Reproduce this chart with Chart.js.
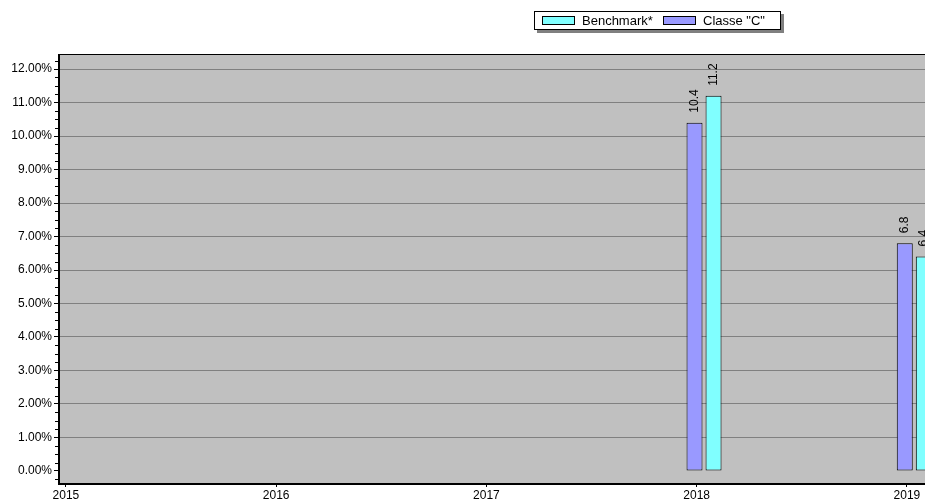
<!DOCTYPE html>
<html>
<head>
<meta charset="utf-8">
<script src="https://cdn.jsdelivr.net/npm/chart.js@4/dist/chart.umd.min.js"></script>
<style>
  html, body { margin: 0; padding: 0; background: #fff; }
  #wrap { position: relative; width: 925px; height: 503px; }
  #legend {
    position: absolute; left: 534px; top: 11px; width: 245px; height: 17px;
    border: 1px solid #000; background: #fff; box-shadow: 3px 3px 0 #808080;
    font: 13px "Liberation Sans", Arial, sans-serif; color: #000;
  }
  #legend .item { position: absolute; top: 1px; line-height: 15px; white-space: nowrap; }
  #legend .sw { display: inline-block; width: 31px; height: 7px; border: 1px solid #000; vertical-align: 0px; margin-right: 7px; }
</style>
</head>
<body>
<div id="wrap">
  <canvas id="chart" width="925" height="503"></canvas>
  <div id="legend"></div>
</div>
<script>
// chart data
const years = [2018.035, 2019.035];
const classeC = [10.4, 6.8];
const benchmark = [11.2, 6.4];
const seriesNames = ['Classe "C"', 'Benchmark*'];
const seriesColors = ['#9999FF', '#80FFFF'];
const xTicks = [2015, 2016, 2017, 2018, 2019];

const FONT = '"Liberation Sans", Arial, sans-serif';

function points(vals) {
  return vals.map((v, i) => ({ x: years[i], y: v }));
}

// gray plot background + frame
const framePlugin = {
  id: 'frame',
  beforeDraw(chart) {
    const { ctx, chartArea: a } = chart;
    ctx.save();
    ctx.fillStyle = '#C0C0C0';
    ctx.fillRect(a.left, a.top, a.right - a.left, a.bottom - a.top);
    ctx.restore();
  },
  afterDatasetsDraw(chart) {
    const { ctx, chartArea: a } = chart;
    ctx.save();
    ctx.fillStyle = '#000';
    ctx.fillRect(a.left, a.top, a.right - a.left, 1);      // top
    ctx.fillRect(a.left - 1, a.top, 2, a.bottom - a.top + 2); // left
    ctx.fillRect(a.left - 1, a.bottom, a.right - a.left + 1, 2); // bottom
    // minor ticks on y axis
    const y = chart.scales.y;
    for (let v = y.min; v <= y.max; v += 0.25) {
      const q = Math.round(v * 4) / 4;
      if (q < y.min || q > y.max || Math.abs(q - Math.round(q)) < 1e-6) continue;
      const py = Math.round(y.getPixelForValue(q)) + 0.5;
      ctx.fillRect(a.left - 4, py - 0.5, 3, 1);
    }
    ctx.restore();
  }
};

// rotated value labels above bars
const valueLabels = {
  id: 'valueLabels',
  afterDatasetsDraw(chart) {
    const { ctx } = chart;
    ctx.save();
    ctx.font = '12px ' + FONT;
    ctx.fillStyle = '#000';
    ctx.textAlign = 'left';
    ctx.textBaseline = 'middle';
    chart.data.datasets.forEach((ds, di) => {
      chart.getDatasetMeta(di).data.forEach((bar, i) => {
        ctx.save();
        ctx.translate(bar.x, bar.y - 10);
        ctx.rotate(-Math.PI / 2);
        ctx.fillText(ds.data[i].y.toFixed(1), 0, 0);
        ctx.restore();
      });
    });
    ctx.restore();
  }
};

new Chart(document.getElementById('chart'), {
  type: 'bar',
  data: {
    datasets: [
      { label: seriesNames[0], data: points(classeC), backgroundColor: seriesColors[0], borderColor: '#000', borderWidth: 1, borderSkipped: false },
      { label: seriesNames[1], data: points(benchmark), backgroundColor: seriesColors[1], borderColor: '#000', borderWidth: 1, borderSkipped: false }
    ]
  },
  options: {
    responsive: false,
    devicePixelRatio: 1,
    animation: false,
    categoryPercentage: 0.181,
    barPercentage: 0.84,
    layout: { padding: { top: 54, right: 0, left: 0, bottom: 0 } },
    plugins: { legend: { display: false }, tooltip: { enabled: false } },
    scales: {
      x: {
        type: 'linear',
        offset: false,
        min: 2014.967,
        max: 2019.086,
        afterBuildTicks(scale) { scale.ticks = xTicks.map(v => ({ value: v })); },
        afterFit(scale) { scale.height = 20; },
        ticks: { color: '#000', font: { size: 12, family: FONT }, padding: 1, maxRotation: 0,
                 callback: v => String(v) },
        grid: { offset: false, drawOnChartArea: false, drawTicks: true, tickLength: 4, tickColor: '#000' },
        border: { display: false }
      },
      y: {
        min: -0.36,
        max: 12.45,
        afterFit(scale) { scale.width = 59; },
        ticks: { stepSize: 1, includeBounds: false, color: '#000', font: { size: 12, family: FONT }, padding: 2,
                 callback: v => v.toFixed(2) + '%' },
        grid: {
          color: ctx => (ctx.tick && ctx.tick.value === 0) ? 'rgba(0,0,0,0)' : '#808080',
          tickColor: '#000', tickLength: 5
        },
        border: { display: false }
      }
    }
  },
  plugins: [framePlugin, valueLabels]
});

// legend (Benchmark first, like the reference)
const legend = document.getElementById('legend');
[[1, 7], [0, 128]].forEach(([idx, left]) => {
  const it = document.createElement('div');
  it.className = 'item';
  it.style.left = left + 'px';
  const sw = document.createElement('span');
  sw.className = 'sw';
  sw.style.background = seriesColors[idx];
  it.appendChild(sw);
  it.appendChild(document.createTextNode(seriesNames[idx]));
  legend.appendChild(it);
});
</script>
</body>
</html>
